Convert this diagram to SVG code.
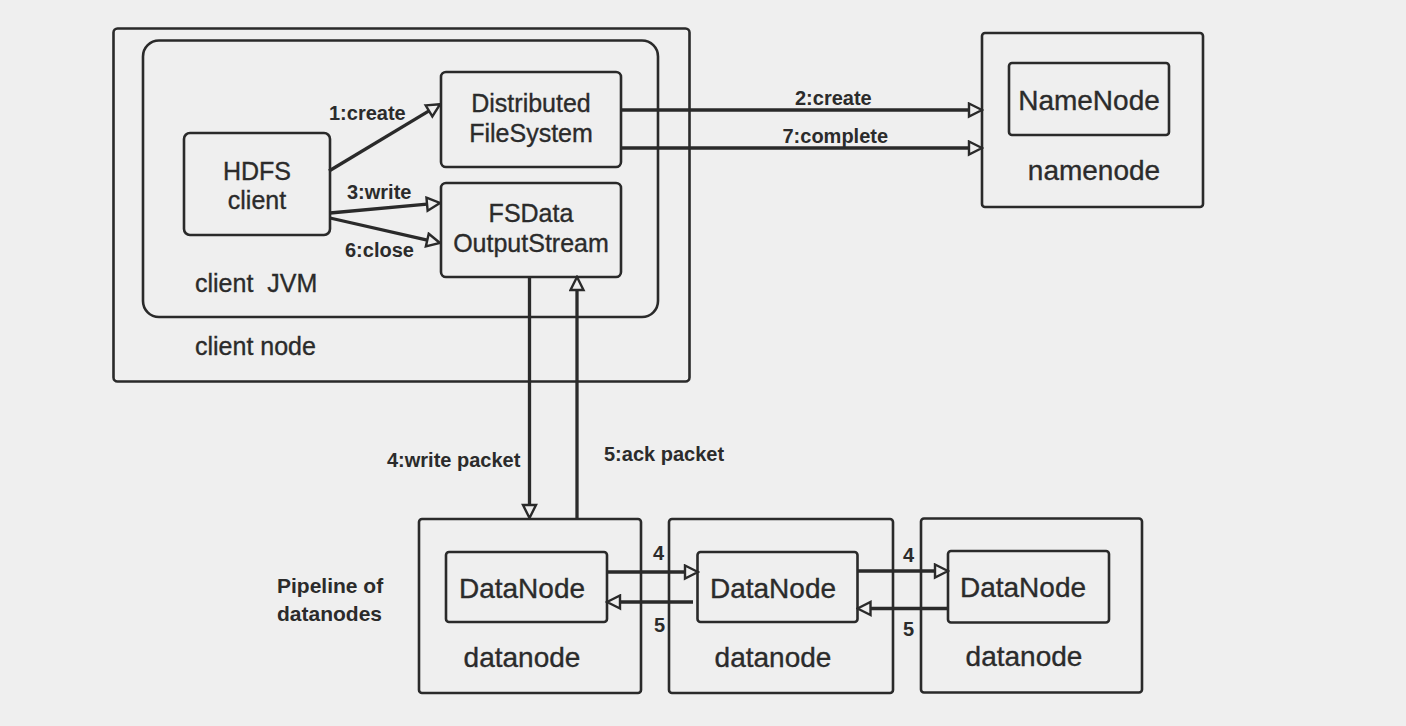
<svg xmlns="http://www.w3.org/2000/svg" width="1406" height="726" viewBox="0 0 1406 726">
<defs>
<marker id="ah" markerUnits="userSpaceOnUse" viewBox="-2 -2 17 17" refX="0" refY="6.5" markerWidth="17" markerHeight="17" orient="auto">
<path d="M0,0 L13,6.5 L0,13 Z" fill="#efefef" stroke="#2a2a2a" stroke-width="2.4" stroke-linejoin="miter"/>
</marker>
</defs>
<style>
.box{fill:none;stroke:#2a2a2a;stroke-width:2.6}
.t{font-family:"Liberation Sans",Arial,sans-serif;fill:#2b2b2b}
.n25{font-size:25px;text-anchor:middle}
.n28{font-size:28px;text-anchor:middle}
.hv{stroke:#2b2b2b;stroke-width:0.35}
.lbl{font-size:20px;font-weight:bold}
.bold{font-size:21px;font-weight:bold}
.conn{fill:none;stroke:#2a2a2a;stroke-width:3.3;marker-end:url(#ah)}
</style>
<rect width="1406" height="726" fill="#efefef"/>

<g id="client-node">
<rect class="box" x="113.5" y="28.5" width="576" height="353" rx="4"/>
<text class="t hv" x="195" y="355" font-size="25">client node</text>
</g>
<g id="client-jvm">
<rect class="box" x="143" y="40.5" width="515" height="276.5" rx="16"/>
<text class="t hv" x="195" y="292" font-size="25" xml:space="preserve">client  JVM</text>
</g>
<g id="hdfs-client">
<rect class="box" x="184" y="133" width="146" height="102" rx="6"/>
<text class="t n25 hv" x="257" y="180">HDFS</text>
<text class="t n25 hv" x="257" y="209">client</text>
</g>
<g id="distributed-filesystem">
<rect class="box" x="441" y="72" width="180" height="95" rx="5"/>
<text class="t n25 hv" x="531" y="112">Distributed</text>
<text class="t n25 hv" x="531" y="142">FileSystem</text>
</g>
<g id="fsdata-outputstream">
<rect class="box" x="441" y="183" width="180" height="94" rx="5"/>
<text class="t n25 hv" x="531" y="222">FSData</text>
<text class="t n25 hv" x="531" y="252">OutputStream</text>
</g>
<g id="namenode">
<rect class="box" x="982" y="33" width="221" height="174" rx="3"/>
<rect class="box" x="1009" y="63" width="160" height="72" rx="3"/>
<text class="t n28 hv" x="1089" y="110">NameNode</text>
<text class="t n28 hv" x="1094" y="180" font-size="27.5">namenode</text>
</g>
<g id="pipeline-label">
<text class="t bold" x="277" y="593">Pipeline of</text>
<text class="t bold" x="277" y="621">datanodes</text>
</g>
<g id="datanode1">
<rect class="box" x="419" y="519" width="222" height="174" rx="3"/>
<rect class="box" x="446" y="552" width="161" height="70" rx="3"/>
<text class="t n28 hv" x="522" y="598">DataNode</text>
<text class="t n28 hv" x="522" y="667" font-size="27.5">datanode</text>
</g>
<g id="datanode2">
<rect class="box" x="669" y="519" width="224" height="174" rx="3"/>
<rect class="box" x="697.5" y="552" width="160" height="70" rx="3"/>
<text class="t n28 hv" x="773" y="598">DataNode</text>
<text class="t n28 hv" x="773" y="667" font-size="27.5">datanode</text>
</g>
<g id="datanode3">
<rect class="box" x="921" y="518.5" width="221" height="174" rx="3"/>
<rect class="box" x="948" y="551" width="161" height="71.5" rx="3"/>
<text class="t n28 hv" x="1023" y="597">DataNode</text>
<text class="t n28 hv" x="1024" y="666" font-size="27.5">datanode</text>
</g>

<g id="connectors">
<line class="conn" x1="329" y1="171" x2="429" y2="110.9"/>
<line class="conn" x1="330" y1="213" x2="427.05" y2="204.18"/>
<line class="conn" x1="330" y1="218" x2="427.3" y2="240.1"/>
<line class="conn" x1="621" y1="110" x2="969" y2="110"/>
<line class="conn" x1="621" y1="148" x2="969" y2="148"/>
<line class="conn" x1="529.5" y1="277" x2="529.5" y2="505"/>
<line class="conn" x1="577" y1="519" x2="577" y2="290"/>
<line class="conn" x1="607" y1="572" x2="685" y2="572"/>
<line class="conn" x1="693" y1="602" x2="620" y2="602"/>
<line class="conn" x1="857.5" y1="571" x2="935" y2="571"/>
<line class="conn" x1="948" y1="608.5" x2="870.5" y2="608.5"/>
<text class="t lbl" x="329" y="120">1:create</text>
<text class="t lbl" x="347" y="199">3:write</text>
<text class="t lbl" x="345" y="257">6:close</text>
<text class="t lbl" x="795" y="105">2:create</text>
<text class="t lbl" x="782.5" y="143">7:complete</text>
<text class="t lbl" x="387" y="467">4:write packet</text>
<text class="t lbl" x="604" y="461">5:ack packet</text>
<text class="t lbl" x="653" y="560">4</text>
<text class="t lbl" x="654" y="632">5</text>
<text class="t lbl" x="903" y="562">4</text>
<text class="t lbl" x="903" y="636">5</text>
</g>
</svg>
